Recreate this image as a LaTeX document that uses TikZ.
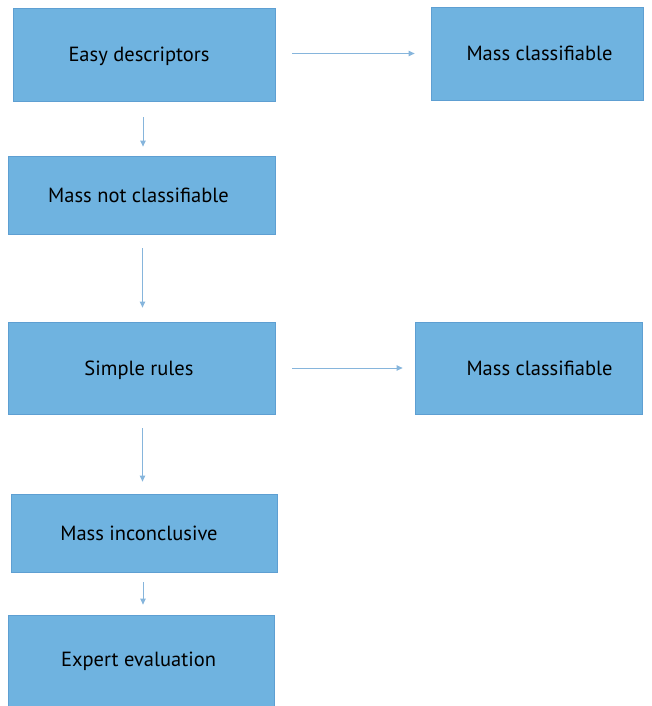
\documentclass[tikz,border=0pt]{standalone}
\usepackage{fontspec}
\setmainfont{PT Sans}
\usetikzlibrary{arrows.meta}
\definecolor{boxfill}{HTML}{6FB3E0}
\definecolor{boxline}{HTML}{5E9FD2}
\definecolor{arrowc}{HTML}{86B5DC}
\begin{document}
\begin{tikzpicture}[x=1pt,y=-1pt,
  box/.style={draw=boxline, line width=0.8pt, fill=boxfill, inner sep=0pt,
    text height=15pt, text depth=0pt,
    font=\fontsize{20.5}{24}\selectfont, text=black},
  conn/.style={draw=arrowc, line width=1pt, -{Triangle[width=5.5pt,length=6pt]}}]
\useasboundingbox (0,0) rectangle (652,706);
\node[box, minimum width=262pt, minimum height=93pt] (b1) at (144,54.5) {Easy descriptors\hspace*{10pt}};
\node[box, minimum width=212pt, minimum height=93pt] (b2) at (537,53.5) {\hspace*{5pt}Mass classifiable};
\node[box, minimum width=267pt, minimum height=78pt] (b3) at (141.5,195) {Mass not classifiable\hspace*{6pt}};
\node[box, minimum width=267pt, minimum height=92pt] (b4) at (141.5,368) {Simple rules\hspace*{5pt}};
\node[box, minimum width=227pt, minimum height=92pt] (b5) at (528.5,368) {\hspace*{22pt}Mass classifiable};
\node[box, minimum width=266pt, minimum height=78pt] (b6) at (144,533) {Mass inconclusive\hspace*{10pt}};
\node[box, minimum width=266pt, minimum height=120pt] (b7) at (141,675) {\raisebox{16pt}{Expert evaluation}\hspace*{5pt}};
\draw[conn, shorten <=17pt, shorten >=16pt] ([yshift=1pt]b1.east) -- ([yshift=1pt]b1.east -| b2.west);
\draw[conn, shorten <=16pt, shorten >=9pt] ([xshift=-1pt]b1.south) -- ([xshift=-1pt]b1.south |- b3.north);
\draw[conn, shorten <=14pt, shorten >=14pt] ([xshift=1pt]b3.south) -- ([xshift=1pt]b3.south |- b4.north);
\draw[conn, shorten <=17pt, shorten >=12pt] (b4.east) -- (b4.east -| b5.west);
\draw[conn, shorten <=14pt, shorten >=12pt] ([xshift=1pt]b4.south) -- ([xshift=1pt]b4.south |- b6.north);
\draw[conn, shorten <=10pt, shorten >=10pt] ([xshift=-1pt]b6.south) -- ([xshift=-1pt]b6.south |- b7.north);
\end{tikzpicture}
\end{document}
